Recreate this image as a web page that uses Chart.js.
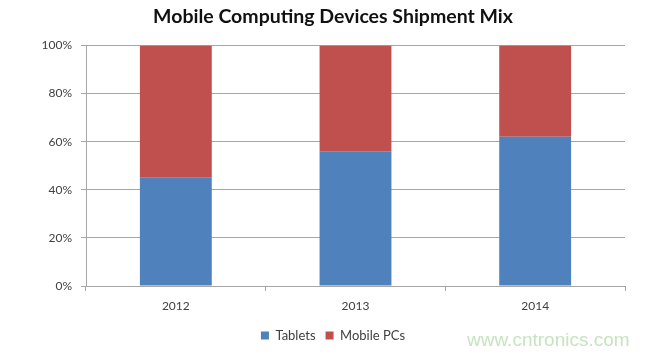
<!DOCTYPE html>
<html>
<head>
<meta charset="utf-8">
<script src="https://cdn.jsdelivr.net/npm/chart.js@4/dist/chart.umd.min.js"></script>
<style>
  html, body { margin: 0; padding: 0; background: #ffffff; }
  #wrap { width: 650px; height: 355px; }
</style>
</head>
<body>
<div id="wrap"><canvas id="c" width="650" height="355"></canvas></div>
<script>
const categories = ['2012', '2013', '2014'];
const tablets = [45, 56, 62];
const mobilePCs = [55, 44, 38];
const yTicks = [0, 20, 40, 60, 80, 100];
const titleText = 'Mobile Computing Devices Shipment Mix';
const watermark = 'www.cntronics.com';

const gridGray = '#a6a6a6';
const textGray = '#404040';

const watermarkPlugin = {
  id: 'watermark',
  afterDraw(chart) {
    const ctx = chart.ctx;
    ctx.save();
    ctx.font = '19px "Liberation Sans", Arial, sans-serif';
    ctx.fillStyle = '#c6e4bf';
    ctx.textAlign = 'left';
    ctx.textBaseline = 'middle';
    ctx.fillText(watermark, 467, 341);
    ctx.restore();
  }
};

new Chart(document.getElementById('c'), {
  type: 'bar',
  data: {
    labels: categories,
    datasets: [
      { label: 'Tablets', data: tablets, backgroundColor: '#4F81BD', borderWidth: 0, yAxisID: 'y' },
      { label: 'Mobile PCs', data: mobilePCs, backgroundColor: '#C0504D', borderWidth: 0, yAxisID: 'y' }
    ]
  },
  options: {
    responsive: false,
    animation: false,
    devicePixelRatio: 1,
    layout: { padding: { left: 16, right: 0, top: 3, bottom: 3 } },
    datasets: { bar: { barPercentage: 0.4, categoryPercentage: 1.0 } },
    plugins: {
      title: {
        display: true,
        text: titleText,
        color: '#111111',
        font: { family: 'Lato, "Open Sans", sans-serif', size: 19.5, weight: 'bold' },
        padding: { top: 2, bottom: 17 }
      },
      legend: {
        display: true,
        position: 'bottom',
        labels: {
          boxWidth: 8,
          boxHeight: 8,
          padding: 10,
          color: textGray,
          font: { family: 'Lato, "Open Sans", sans-serif', size: 13 }
        }
      },
      tooltip: { enabled: false }
    },
    scales: {
      x: {
        stacked: true,
        offset: true,
        grid: {
          display: true,
          offset: true,
          drawOnChartArea: false,
          drawTicks: true,
          tickLength: 5,
          color: gridGray
        },
        border: { display: true, color: gridGray, width: 1 },
        ticks: {
          color: textGray,
          padding: 8,
          font: { family: 'Lato, "Open Sans", sans-serif', size: 12 }
        },
        afterFit(scale) { scale.height = 33; }
      },
      y: {
        stacked: true,
        min: 0,
        max: 100,
        afterBuildTicks(scale) { scale.ticks = yTicks.map(v => ({ value: v })); },
        grid: {
          display: true,
          drawTicks: true,
          tickLength: 5,
          color: gridGray
        },
        border: { display: true, color: gridGray, width: 1 },
        ticks: {
          color: textGray,
          padding: 9,
          font: { family: 'Lato, "Open Sans", sans-serif', size: 12 },
          callback: (v) => v + '%'
        },
        afterFit(scale) { scale.width = 70; }
      },
      yRight: {
        position: 'right',
        display: true,
        min: 0,
        max: 100,
        grid: { display: false, drawTicks: false },
        border: { display: false },
        ticks: { display: false },
        afterFit(scale) { scale.width = 25; }
      }
    }
  },
  plugins: [watermarkPlugin]
});
</script>
</body>
</html>
